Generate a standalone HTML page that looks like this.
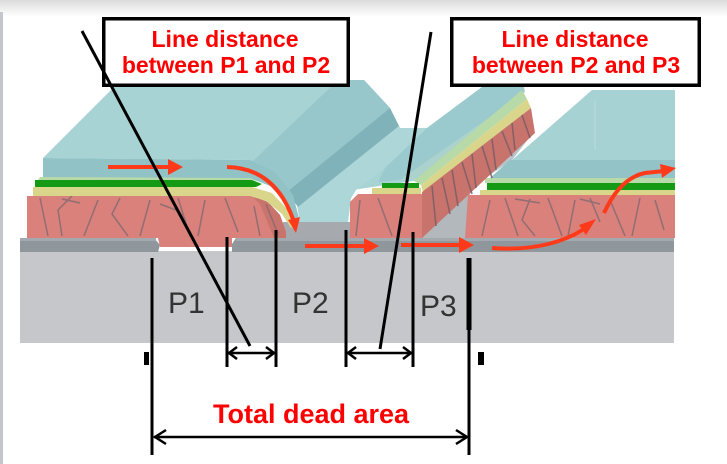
<!DOCTYPE html>
<html><head><meta charset="utf-8"><style>
html,body{margin:0;padding:0;background:#fff;}
svg{display:block;}
text{font-family:"Liberation Sans",Arial,sans-serif;}
</style></head><body>
<svg width="727" height="464" viewBox="0 0 727 464" xmlns="http://www.w3.org/2000/svg">
<defs>
<linearGradient id="tg" x1="0" y1="0" x2="0" y2="1"><stop offset="0" stop-color="#dcdcdc"/><stop offset="1" stop-color="#ffffff"/></linearGradient>
</defs>
<rect width="727" height="464" fill="#fff"/>
<rect x="0" y="0" width="727" height="17" fill="url(#tg)"/>
<rect x="0" y="12" width="3" height="452" fill="#c3c6ca"/>

<!-- substrate -->
<rect x="20" y="251" width="654" height="92" fill="#c5c7ca"/>
<!-- TCO -->
<polygon points="20,239 155,239 160,245 158,252 20,252" fill="#8f979d"/>
<rect x="20" y="238" width="136" height="3" fill="#a3a9ae"/>
<polygon points="232,244 236,238 674,238 674,252 232,252" fill="#8f979d"/>
<rect x="236" y="238" width="438" height="3" fill="#a3a9ae"/>

<!-- light gray under P2 groove -->
<rect x="283" y="222" width="67" height="16" fill="#a6aaaf"/>

<!-- Region L (P3 groove going back) -->
<polygon points="420,238 533,133 512,160 490,175 468,193 465,238" fill="#b4c4c8"/>
<polygon points="420,238 470,192 468,238" fill="#b3b8bc"/>

<!-- Cell 3 -->
<polygon points="512,160 592,90 675,90 675,160" fill="#a7d2d4"/>
<line x1="595" y1="100" x2="595" y2="150" stroke="#b9dcdd" stroke-width="1"/>
<polygon points="490,178 510,160 675,160 675,178" fill="#93c3c7"/>
<rect x="485" y="178" width="190" height="5" fill="#b8d9a8"/>
<rect x="487" y="183" width="188" height="7" fill="#159a15"/>
<rect x="480" y="190" width="195" height="6" fill="#d9d58a"/>
<polygon points="468,195 675,195 675,238 465,238" fill="#d9817a"/>
<g stroke="#7f6a72" stroke-width="1.5" fill="none" opacity="0.8">
<polyline points="490,200 482,236"/><polyline points="505,198 518,236"/><polyline points="530,199 522,220 535,236"/>
<polyline points="548,198 562,236"/><polyline points="575,200 568,236"/><polyline points="590,198 600,222"/>
<polyline points="610,200 625,236"/><polyline points="640,198 632,236"/><polyline points="655,200 664,230"/>
<polyline points="515,199 540,203"/><polyline points="580,199 600,204"/>
</g>

<!-- Cell 1 / cell 2 teal mass -->
<polygon points="43,158 121,80 364,80 390,108 400,128 427,128 482,87 524,87 525,92 420,180 352,190 348,222 300,222 297,205 250,160" fill="#a7d3d5"/>
<polygon points="338,80 364,80 390,108 288,192 250,164" fill="#97c7cb"/>
<polygon points="390,108 399,126 298,207 287,192" fill="#80b3b9"/>
<polygon points="399,126 400,128 427,128 385,168 356,190 350,200 348,222 300,222 298,207" fill="#acd6d8"/>
<polygon points="427,128 482,87 524,87 524,92 418,178 378,182 385,168" fill="#9bcace"/>
<polygon points="500,110 523,92 420,180 400,180" fill="#b2d6cc" opacity="0.7"/>

<!-- Cell 2 cut face stack -->
<polygon points="522,90 527,99 421,185 414,181" fill="#b8d9a8"/>
<polygon points="527,99 531,108 423,192 421,185" fill="#d9d58a"/>
<polygon points="531,108 535,133 422,238 422,192" fill="#c9736d"/>
<g stroke="#7a5f66" stroke-width="1.6" opacity="0.85">
<line x1="432" y1="186" x2="436" y2="226"/><line x1="442" y1="178" x2="450" y2="214"/>
<line x1="452" y1="170" x2="458" y2="206"/><line x1="462" y1="162" x2="472" y2="194"/>
<line x1="472" y1="154" x2="476" y2="188"/><line x1="482" y1="146" x2="492" y2="178"/>
<line x1="492" y1="139" x2="496" y2="170"/><line x1="502" y1="131" x2="512" y2="156"/>
<line x1="512" y1="123" x2="515" y2="150"/><line x1="522" y1="115" x2="530" y2="138"/>
</g>
<!-- Cell 2 front -->
<polygon points="350,238 350,202 358,194 422,194 422,238" fill="#d9817a"/>
<rect x="372" y="188" width="49" height="6" fill="#d9d58a"/>
<rect x="382" y="183" width="37" height="5" fill="#159a15"/>
<g stroke="#7f6a72" stroke-width="1.5" opacity="0.8">
<line x1="360" y1="200" x2="356" y2="236"/><line x1="378" y1="198" x2="392" y2="236"/><line x1="405" y1="198" x2="398" y2="236"/>
</g>

<!-- Cell 1 front -->
<polygon points="27,196 252,196 268,202 280,215 286,232 286,238 232,238 232,247 160,247 158,238 27,238" fill="#d9817a"/>
<polygon points="252,196 268,202 280,215 286,232 286,238 274,238 260,204" fill="#c9736d"/>
<g stroke="#7f6a72" stroke-width="1.5" fill="none" opacity="0.8">
<polyline points="40,198 48,236"/><polyline points="72,196 58,210 62,236"/><polyline points="98,200 84,236"/>
<polyline points="120,198 112,214 128,236"/><polyline points="150,200 140,236"/><polyline points="178,198 190,236"/>
<polyline points="205,200 198,236"/><polyline points="225,198 238,232"/><polyline points="160,204 176,210"/>
<polyline points="62,199 80,203"/><polyline points="266,204 278,234"/><polyline points="254,206 260,236"/>
</g>
<polygon points="33,187 252,187 272,193 288,210 296,226 291,228 282,214 266,201 250,196 33,196" fill="#d9d58a"/>
<polygon points="35,180 252,180 262,184 256,187 35,187" fill="#159a15"/>
<polygon points="40,177 250,177 262,182 252,180 38,180" fill="#b8d9a8"/>
<polygon points="43,158 250,160 275,172 293,195 300,222 294,224 288,205 270,186 250,178 43,177" fill="#90c2c6"/>

<!-- Red arrows -->
<g fill="#ff3a1a" stroke="none">
<rect x="108" y="165" width="62" height="4"/>
<polygon points="168,159 183,167 168,175"/>
<rect x="305" y="244" width="62" height="4"/>
<polygon points="364,238 379,246 364,254"/>
<rect x="401" y="243" width="60" height="4"/>
<polygon points="459,237 474,245 459,253"/>
<polygon points="579,225 596,219 586,235"/>
<polygon points="660,164 676,168 662,178"/>
<polygon points="288,220 296,233 300,217"/>
</g>
<g fill="none" stroke="#ff3a1a" stroke-width="4">
<path d="M227,167 Q276,168 294,222"/>
<path d="M492,248 Q548,252 584,229"/>
<path d="M604,213 Q620,178 645,173 L664,171"/>
</g>

<!-- Boxes -->
<rect x="103.75" y="18.75" width="244.5" height="66.5" fill="#fff" stroke="#000" stroke-width="3.5"/>
<rect x="451.75" y="18.75" width="247.5" height="66.5" fill="#fff" stroke="#000" stroke-width="3.5"/>
<g fill="#ff0000" font-weight="bold" font-size="23" text-anchor="middle">
<text x="225" y="47">Line distance</text>
<text x="226" y="73">between P1 and P2</text>
<text x="575" y="47">Line distance</text>
<text x="576" y="73">between P2 and P3</text>
</g>

<!-- P labels -->
<g fill="#333" font-size="30">
<text x="168" y="313">P1</text>
<text x="292" y="313">P2</text>
<text x="420" y="316">P3</text>
</g>

<!-- Black dimension lines -->
<g stroke="#000" stroke-width="3" fill="none">
<line x1="82" y1="31" x2="250" y2="346"/>
<line x1="431" y1="32" x2="380" y2="349"/>
<line x1="152" y1="258" x2="152" y2="455"/>
<line x1="227" y1="237" x2="227" y2="367"/>
<line x1="276" y1="230" x2="276" y2="367"/>
<line x1="346" y1="230" x2="346" y2="367"/>
<line x1="413" y1="232" x2="413" y2="367"/>
<line x1="469" y1="258" x2="469" y2="455"/>
<line x1="469" y1="258" x2="469" y2="330" stroke-width="5"/>
<line x1="228" y1="353" x2="275" y2="353" stroke-width="2.5"/>
<polyline points="237,347 229,353 237,359" stroke-width="2.5"/>
<polyline points="266,347 274,353 266,359" stroke-width="2.5"/>
<line x1="347" y1="353" x2="412" y2="353" stroke-width="2.5"/>
<polyline points="356,347 348,353 356,359" stroke-width="2.5"/>
<polyline points="403,347 411,353 403,359" stroke-width="2.5"/>
<line x1="154" y1="437" x2="467" y2="437" stroke-width="2.5"/>
<polyline points="166,430 155,437 166,444" stroke-width="2.5"/>
<polyline points="456,430 467,437 456,444" stroke-width="2.5"/>
</g>
<rect x="144" y="352" width="5" height="13" fill="#000"/>
<rect x="478" y="352" width="6" height="13" fill="#000"/>

<text x="213" y="423" fill="#ff0000" font-weight="bold" font-size="27">Total dead area</text>
</svg>
</body></html>
